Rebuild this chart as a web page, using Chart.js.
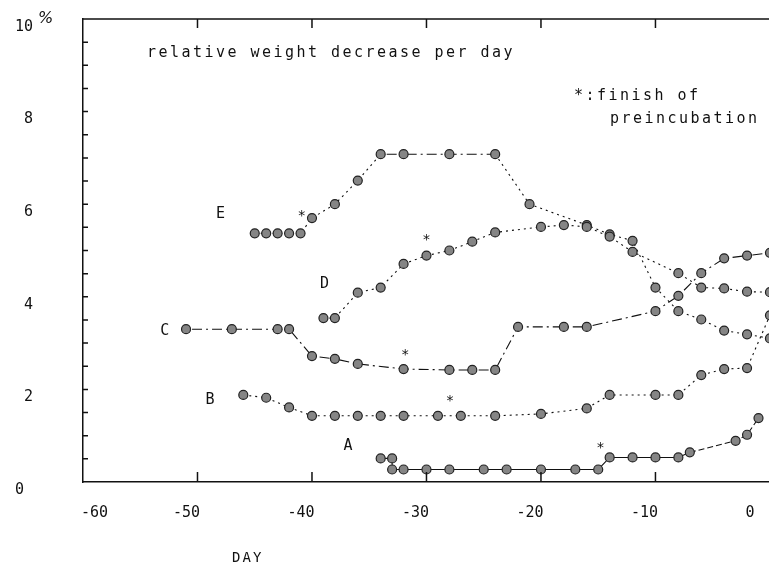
<!DOCTYPE html>
<html>
<head>
<meta charset="utf-8">
<script src="https://cdn.jsdelivr.net/npm/chart.js@4.4.1/dist/chart.umd.min.js"></script>
<style>
  html, body { margin: 0; padding: 0; background: #fff; overflow: hidden; width: 769px; height: 566px; }
  canvas { display: block; }
</style>
</head>
<body>
<canvas id="chart" width="810" height="566"></canvas>
<script>
// axis ticks
const xTicks = [-60, -50, -40, -30, -20, -10, 0];
const yTicks = [0, 2, 4, 6, 8, 10];

// series A..E: day and relative weight decrease (%)
const daysA = [-34, -33, -33, -32, -30, -28, -25, -23, -20, -17, -15, -14, -12, -10, -8, -7, -3, -2, -1];
const valsA = [0.51, 0.51, 0.27, 0.27, 0.27, 0.27, 0.27, 0.27, 0.27, 0.27, 0.27, 0.53, 0.53, 0.53, 0.53, 0.64, 0.89, 1.02, 1.38];

const daysB = [-46, -44, -42, -40, -38, -36, -34, -32, -29, -27, -24, -20, -16, -14, -10, -8, -6, -4, -2, 0];
const valsB = [1.88, 1.82, 1.61, 1.43, 1.43, 1.43, 1.43, 1.43, 1.43, 1.43, 1.43, 1.47, 1.59, 1.88, 1.88, 1.88, 2.31, 2.44, 2.46, 3.6];

const daysC = [-51, -47, -43, -42, -40, -38, -36, -32, -28, -26, -24, -22, -18, -16, -10, -8, -6, -4, -2, 0];
const valsC = [3.30, 3.30, 3.30, 3.30, 2.72, 2.66, 2.55, 2.44, 2.42, 2.42, 2.42, 3.35, 3.35, 3.35, 3.69, 4.02, 4.51, 4.83, 4.89, 4.95];

const daysD = [-39, -38, -36, -34, -32, -30, -28, -26, -24, -20, -18, -16, -14, -12, -8, -6, -4, -2, 0];
const valsD = [3.54, 3.54, 4.09, 4.20, 4.71, 4.89, 5.00, 5.19, 5.39, 5.51, 5.55, 5.51, 5.30, 4.97, 4.51, 4.20, 4.18, 4.11, 4.10];

const daysE = [-45, -44, -43, -42, -41, -40, -38, -36, -34, -32, -28, -24, -21, -16, -14, -12, -10, -8, -6, -4, -2, 0];
const valsE = [5.37, 5.37, 5.37, 5.37, 5.37, 5.70, 6.00, 6.51, 7.08, 7.08, 7.08, 7.08, 6.00, 5.55, 5.35, 5.21, 4.20, 3.69, 3.51, 3.27, 3.19, 3.10];

// series letters and "finish of preincubation" marks, in data coordinates
const seriesLabels = [
  { text: "E", x: -48.0, y: 5.81 },
  { text: "D", x: -38.9, y: 4.31 },
  { text: "C", x: -52.85, y: 3.30 },
  { text: "B", x: -48.9, y: 1.80 },
  { text: "A", x: -36.85, y: 0.81 }
];
const stars = [
  { x: -40.9, y: 5.81 },
  { x: -30.0, y: 5.31 },
  { x: -31.85, y: 2.81 },
  { x: -27.95, y: 1.83 },
  { x: -14.8, y: 0.82 }
];
const notes = [
  { text: "relative weight decrease per day", x: 147, y: 56.5 },
  { text: "*:finish of", x: 574, y: 100 },
  { text: "preincubation", x: 610, y: 123 }
];

const MONO = '"DejaVu Sans Mono", monospace';
const INK = "#111";
const DOT = [2, 4];
const DASHDOT = [2, 4, 10, 4];

function series(days, vals, dash, segDash) {
  return {
    data: days.map((d, i) => ({ x: d, y: vals[i] })),
    borderColor: INK,
    borderWidth: 1.1,
    borderDash: dash,
    segment: segDash ? { borderDash: segDash } : undefined,
    pointRadius: 4.5,
    pointBackgroundColor: "#858585",
    pointBorderColor: "#222",
    pointBorderWidth: 1.2,
    tension: 0,
    fill: false
  };
}

function spaced(ctx, s, x0, yb, step) {
    [...s].forEach((c, i) => ctx.fillText(c, x0 + i * step, yb));
}

const decor = {
    id: "decor",
    afterDraw(chart) {
        const { ctx, chartArea: a, scales: { x, y } } = chart;
        ctx.save();
        ctx.strokeStyle = INK;
        ctx.lineWidth = 1.5;
        ctx.beginPath();
        // top frame line with its ticks, inner ticks on left and bottom axes
        ctx.moveTo(a.left, a.top); ctx.lineTo(a.right, a.top);
        for (let v = 0.5; v < 10; v += 0.5) {
            const py = y.getPixelForValue(v);
            ctx.moveTo(a.left, py); ctx.lineTo(a.left + 5, py);
        }
        xTicks.filter(v => v > -60 && v < 0).forEach(v => {
            const px = x.getPixelForValue(v);
            ctx.moveTo(px, a.bottom); ctx.lineTo(px, a.bottom - 10);
            ctx.moveTo(px, a.top); ctx.lineTo(px, a.top + 9);
        });
        ctx.stroke();

        ctx.fillStyle = INK;
        ctx.textBaseline = "alphabetic";
        ctx.textAlign = "center";
        ctx.font = `15px ${MONO}`;
        seriesLabels.forEach(l => ctx.fillText(l.text, x.getPixelForValue(l.x), y.getPixelForValue(l.y) + 5.5));
        ctx.font = `14px ${MONO}`;
        stars.forEach(s => ctx.fillText("*", x.getPixelForValue(s.x), y.getPixelForValue(s.y) + 7.5));

        ctx.textAlign = "left";
        ctx.font = `15px ${MONO}`;
        notes.forEach(n => spaced(ctx, n.text, n.x, n.y, 11.5));

        // axis unit and title
        ctx.font = 'italic 16px "DejaVu Sans", sans-serif';
        ctx.fillText("%", 38, 23);
        ctx.font = `14px ${MONO}`;
        spaced(ctx, "DAY", 232, 562, 10.5);
        ctx.restore();
    }
};

new Chart(document.getElementById("chart"), {
    type: "line",
    data: {
        datasets: [
            series(daysA, valsA, [], ctx => ctx.p0.parsed.x >= -7 ? [6, 3] : undefined),
            series(daysB, valsB, DOT),
            series(daysC, valsC, DASHDOT),
            series(daysD, valsD, DOT),
            series(daysE, valsE, DOT, ctx => (ctx.p0.parsed.x >= -34 && ctx.p0.parsed.x < -24) ? DASHDOT : undefined)
        ]
    },
    options: {
        responsive: false, animation: false, devicePixelRatio: 1,
        layout: { padding: { top: 19, left: 0, right: 0, bottom: 0 } },
        plugins: { legend: { display: false }, tooltip: { enabled: false } },
        scales: {
            x: {
                type: "linear", min: -60, max: 3,
                afterBuildTicks: s => { s.ticks = xTicks.map(v => ({ value: v })); },
                afterFit: s => { s.height = 84; s.paddingLeft = 0; s.paddingRight = 0; },
                grid: { display: false, drawTicks: false },
                border: { display: true, color: INK, width: 1.5 },
                ticks: {
                    font: { family: MONO, size: 15 }, color: INK, padding: 22, labelOffset: -11,
                    maxRotation: 0, autoSkip: false,
                    callback: v => v === -60 ? "     -60" : v === 0 ? "0  " : String(v)
                }
            },
            y: {
                type: "linear", min: 0, max: 10,
                afterBuildTicks: s => { s.ticks = yTicks.map(v => ({ value: v })); },
                afterFit: s => { s.width = 83; s.paddingTop = 0; s.paddingBottom = 0; },
                grid: { display: false, drawTicks: false },
                border: { display: true, color: INK, width: 1.5 },
                ticks: {
                    font: { family: MONO, size: 15 }, color: INK, padding: 50, labelOffset: 8,
                    callback: v => v === 0 ? "0 " : String(v)
                }
            }
        }
    },
    plugins: [decor]
});
</script>
</body>
</html>
